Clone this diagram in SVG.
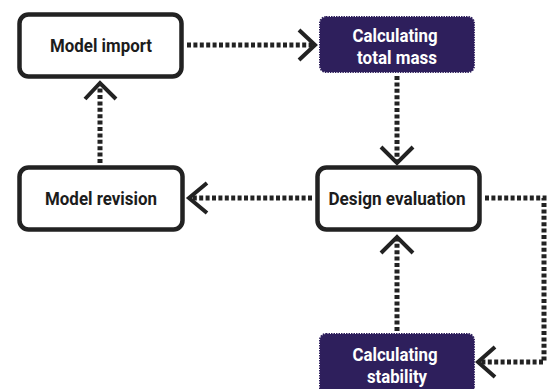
<svg xmlns="http://www.w3.org/2000/svg" width="547" height="389" viewBox="0 0 547 389">
<style>
.box{fill:#fff;stroke:#222;stroke-width:4.5}
.pbox{fill:#2e1f5c;stroke:#2e1f5c;stroke-width:2;stroke-dasharray:1.5 1}
.t{font-family:Roboto,"Liberation Sans",sans-serif;font-weight:bold;font-size:18px;fill:#1c1c1c;text-anchor:middle}
.tw{fill:#fff}
.line{fill:none;stroke:#222;stroke-width:5;stroke-dasharray:4 2.4}
.head{fill:none;stroke:#222;stroke-width:4;stroke-linecap:butt;stroke-linejoin:miter}
</style>
<rect width="547" height="389" fill="#fff"/>
<g id="connectors">
<line class="line" x1="187" y1="45" x2="312" y2="45"/>
<polyline class="head" points="299,30 315,45 299,60"/>
<line class="line" x1="397" y1="76" x2="397" y2="161"/>
<polyline class="head" points="381,147 397,163 413,147"/>
<line class="line" x1="312" y1="198" x2="191" y2="198"/>
<polyline class="head" points="207,183 189,198 207,213"/>
<line class="line" x1="100" y1="163" x2="100" y2="85"/>
<polyline class="head" points="85,99 100,83 116,99"/>
<polyline class="line" points="485,198 544,198 544,362 481,362"/>
<polyline class="head" points="495,347 478,362 495,377"/>
<line class="line" x1="397" y1="331" x2="397" y2="240"/>
<polyline class="head" points="381,253 397,237 413,253"/>
</g>
<g id="model-import">
<rect class="box" x="19.5" y="14.5" width="162" height="62" rx="9"/>
<text class="t" x="101" y="52" textLength="102" lengthAdjust="spacingAndGlyphs">Model import</text>
</g>
<g id="calc-total-mass">
<rect class="pbox" x="320" y="17" width="154" height="55" rx="6"/>
<text class="t tw" x="395" y="42" textLength="85" lengthAdjust="spacingAndGlyphs">Calculating</text>
<text class="t tw" x="397" y="64" textLength="80" lengthAdjust="spacingAndGlyphs">total mass</text>
</g>
<g id="model-revision">
<rect class="box" x="19.5" y="167.5" width="163" height="62" rx="9"/>
<text class="t" x="101" y="205" textLength="112" lengthAdjust="spacingAndGlyphs">Model revision</text>
</g>
<g id="design-evaluation">
<rect class="box" x="317.5" y="167.5" width="162" height="62" rx="9"/>
<text class="t" x="397" y="205" textLength="137" lengthAdjust="spacingAndGlyphs">Design evaluation</text>
</g>
<g id="calc-stability">
<rect class="pbox" x="320" y="334" width="154" height="62" rx="6"/>
<text class="t tw" x="395" y="361" textLength="85" lengthAdjust="spacingAndGlyphs">Calculating</text>
<text class="t tw" x="397" y="383" textLength="60" lengthAdjust="spacingAndGlyphs">stability</text>
</g>
</svg>
